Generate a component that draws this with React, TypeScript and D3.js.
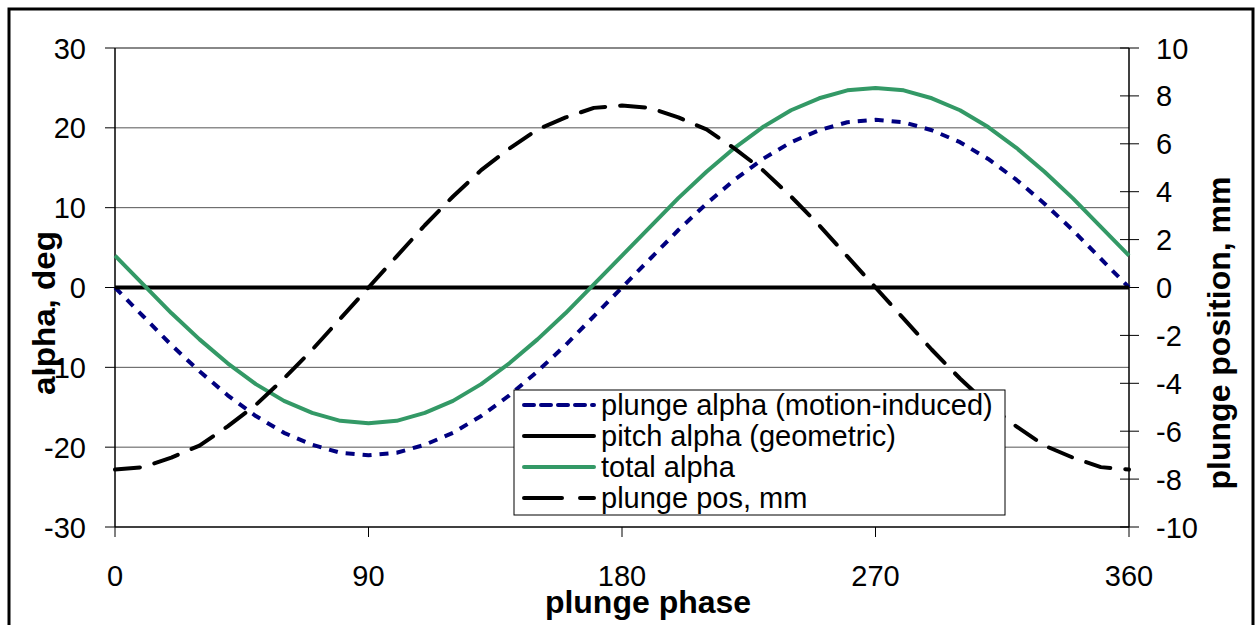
import React, { useEffect, useRef } from "react";
import * as d3 from "d3";

// Phase angles (deg) at which each series was sampled
const phase = [
  0, 10, 20, 30, 40, 50, 60, 70, 80, 90, 100, 110, 120, 130, 140, 150, 160, 170, 180,
  190, 200, 210, 220, 230, 240, 250, 260, 270, 280, 290, 300, 310, 320, 330, 340, 350, 360,
];

// plunge alpha (motion-induced), deg
const plungeAlpha = [
  0, -3.6, -7.2, -10.5, -13.5, -16.1, -18.2, -19.7, -20.7, -21, -20.7, -19.7, -18.2, -16.1,
  -13.5, -10.5, -7.2, -3.6, 0, 3.6, 7.2, 10.5, 13.5, 16.1, 18.2, 19.7, 20.7, 21, 20.7, 19.7,
  18.2, 16.1, 13.5, 10.5, 7.2, 3.6, 0,
];

// pitch alpha (geometric), deg
const pitchAlpha = [
  0, 0, 0, 0, 0, 0, 0, 0, 0, 0, 0, 0, 0, 0, 0, 0, 0, 0, 0, 0, 0, 0, 0, 0, 0, 0, 0, 0, 0, 0,
  0, 0, 0, 0, 0, 0, 0,
];

// total alpha, deg
const totalAlpha = [
  4, 0.4, -3.2, -6.5, -9.5, -12.1, -14.2, -15.7, -16.7, -17, -16.7, -15.7, -14.2, -12.1,
  -9.5, -6.5, -3.2, 0.4, 4, 7.6, 11.2, 14.5, 17.5, 20.1, 22.2, 23.7, 24.7, 25, 24.7, 23.7,
  22.2, 20.1, 17.5, 14.5, 11.2, 7.6, 4,
];

// plunge position, mm (right axis)
const plungePos = [
  -7.6, -7.5, -7.1, -6.6, -5.8, -4.9, -3.8, -2.6, -1.3, 0, 1.3, 2.6, 3.8, 4.9, 5.8, 6.6,
  7.1, 7.5, 7.6, 7.5, 7.1, 6.6, 5.8, 4.9, 3.8, 2.6, 1.3, 0, -1.3, -2.6, -3.8, -4.9, -5.8,
  -6.6, -7.1, -7.5, -7.6,
];

const xTicks = [0, 90, 180, 270, 360];
const leftTicks = [-30, -20, -10, 0, 10, 20, 30];
const rightTicks = [-10, -8, -6, -4, -2, 0, 2, 4, 6, 8, 10];

const legendLabels = [
  "plunge alpha (motion-induced)",
  "pitch alpha (geometric)",
  "total alpha",
  "plunge pos, mm",
];

const W = 1257;
const H = 625;
const FONT = "'Liberation Sans', Arial, sans-serif";
const TICK_FS = 29;
const TITLE_FS = 32;

export default function App() {
  const ref = useRef<SVGSVGElement>(null);

  useEffect(() => {
    const svg = d3.select(ref.current);
    svg.selectAll("*").remove();

    const left = 115, right = 1129, top = 48, bottom = 527;
    const x = d3.scaleLinear().domain([0, 360]).range([left, right]);
    const yL = d3.scaleLinear().domain([-30, 30]).range([bottom, top]);
    const yR = d3.scaleLinear().domain([-10, 10]).range([bottom, top]);

    svg.append("rect").attr("x", 0).attr("y", 0).attr("width", W).attr("height", H).attr("fill", "#fff");
    // outer chart border
    svg.append("rect")
      .attr("x", 9).attr("y", 9).attr("width", 1244).attr("height", 640)
      .attr("fill", "none").attr("stroke", "#000").attr("stroke-width", 3);

    // horizontal gridlines
    svg.append("g").selectAll("line").data(leftTicks.filter((t) => t !== -30)).join("line")
      .attr("x1", left).attr("x2", right)
      .attr("y1", (d) => yL(d)).attr("y2", (d) => yL(d))
      .attr("stroke", (d) => (d === 30 ? "#888" : "#555"))
      .attr("stroke-width", (d) => (d === 30 ? 2 : 1));

    // left axis
    svg.append("line").attr("x1", left).attr("x2", left).attr("y1", top).attr("y2", bottom)
      .attr("stroke", "#000").attr("stroke-width", 1.5);
    svg.append("g").selectAll("line").data(leftTicks).join("line")
      .attr("x1", left - 10).attr("x2", left).attr("y1", (d) => yL(d)).attr("y2", (d) => yL(d))
      .attr("stroke", "#000").attr("stroke-width", 1);
    svg.append("g").selectAll("text").data(leftTicks).join("text")
      .attr("x", 86).attr("y", (d) => yL(d) + 10.5)
      .attr("text-anchor", "end").attr("font-family", FONT).attr("font-size", TICK_FS)
      .text((d) => String(d));

    // right axis
    svg.append("line").attr("x1", right).attr("x2", right).attr("y1", top).attr("y2", bottom)
      .attr("stroke", "#000").attr("stroke-width", 1.5);
    svg.append("g").selectAll("line").data(rightTicks).join("line")
      .attr("x1", right - 9).attr("x2", right + 10).attr("y1", (d) => yR(d)).attr("y2", (d) => yR(d))
      .attr("stroke", "#000").attr("stroke-width", 1);
    svg.append("g").selectAll("text").data(rightTicks).join("text")
      .attr("x", 1156).attr("y", (d) => yR(d) + 10.5)
      .attr("font-family", FONT).attr("font-size", TICK_FS)
      .text((d) => String(d));

    // bottom axis
    svg.append("line").attr("x1", left).attr("x2", right).attr("y1", bottom).attr("y2", bottom)
      .attr("stroke", "#000").attr("stroke-width", 1.5);
    svg.append("g").selectAll("line").data(xTicks).join("line")
      .attr("x1", (d) => x(d)).attr("x2", (d) => x(d)).attr("y1", bottom).attr("y2", bottom + 10)
      .attr("stroke", "#000").attr("stroke-width", 1);
    svg.append("g").selectAll("text").data(xTicks).join("text")
      .attr("x", (d) => x(d)).attr("y", 586)
      .attr("text-anchor", "middle").attr("font-family", FONT).attr("font-size", TICK_FS)
      .text((d) => String(d));

    // axis titles
    svg.append("text").attr("x", 648).attr("y", 613).attr("text-anchor", "middle")
      .attr("font-family", FONT).attr("font-size", TITLE_FS).attr("font-weight", "bold")
      .text("plunge phase");
    svg.append("text").attr("transform", `translate(55,313) rotate(-90)`)
      .attr("text-anchor", "middle").attr("font-family", FONT).attr("font-size", TITLE_FS)
      .attr("font-weight", "bold")
      .attr("textLength", 164).attr("lengthAdjust", "spacingAndGlyphs")
      .text("alpha, deg");
    svg.append("text").attr("transform", `translate(1230,333) rotate(-90)`)
      .attr("text-anchor", "middle").attr("font-family", FONT).attr("font-size", TITLE_FS)
      .attr("font-weight", "bold").text("plunge position, mm");

    const lineL = d3.line<[number, number]>().x((d) => x(d[0])).y((d) => yL(d[1]));
    const lineR = d3.line<[number, number]>().x((d) => x(d[0])).y((d) => yR(d[1]));
    const zipd = (vals: number[]) => phase.map((p, i) => [p, vals[i]] as [number, number]);

    const series = [
      { path: lineL(zipd(plungeAlpha)), color: "#000080", dash: "9 8", cap: "butt" },
      { path: lineL(zipd(pitchAlpha)), color: "#000", dash: null, cap: "butt" },
      { path: lineL(zipd(totalAlpha)), color: "#339966", dash: null, cap: "butt" },
      { path: lineR(zipd(plungePos)), color: "#000", dash: "25 15", cap: "round" },
    ];

    series.forEach((s) => {
      svg.append("path").attr("d", s.path as string).attr("fill", "none")
        .attr("stroke", s.color).attr("stroke-width", 4)
        .attr("stroke-linecap", s.cap).attr("stroke-linejoin", "round")
        .attr("stroke-dasharray", s.dash);
    });

    // legend
    const lg = svg.append("g").attr("transform", "translate(514,390)");
    lg.append("rect").attr("width", 491).attr("height", 125)
      .attr("fill", "#fff").attr("stroke", "#000").attr("stroke-width", 1);
    const legendDash = ["10 7", null, null, "38 18"];
    series.forEach((s, i) => {
      const yy = 15 + i * 31;
      lg.append("line").attr("x1", 10).attr("x2", 80).attr("y1", yy).attr("y2", yy)
        .attr("stroke", s.color).attr("stroke-width", 4)
        .attr("stroke-linecap", "round").attr("stroke-dasharray", legendDash[i]);
      lg.append("text").attr("x", 87).attr("y", yy + 10)
        .attr("font-family", FONT).attr("font-size", TICK_FS)
        .text(legendLabels[i]);
    });
  }, []);

  return (
    <svg ref={ref} width={W} height={H} style={{ position: "absolute", left: 0, top: 0 }} />
  );
}
